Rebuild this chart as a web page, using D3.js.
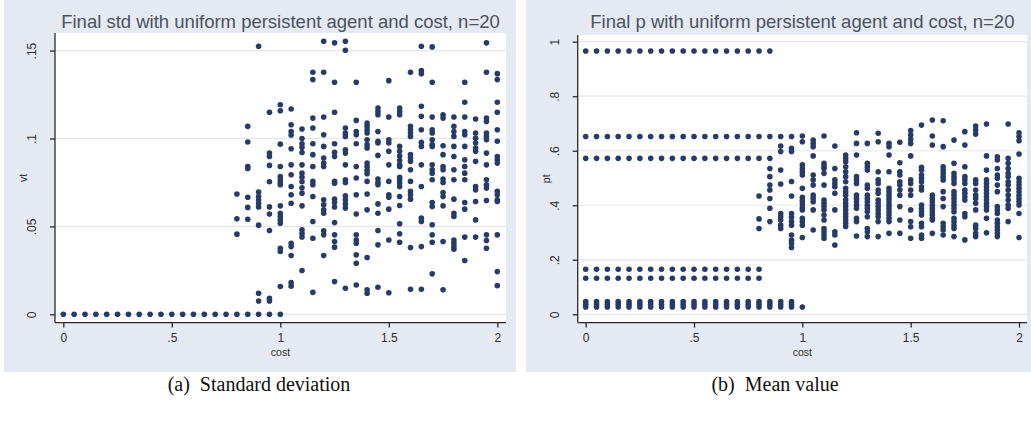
<!DOCTYPE html>
<html>
<head>
<meta charset="utf-8">
<script src="https://cdn.jsdelivr.net/npm/d3@7"></script>
<style>
  html, body { margin: 0; padding: 0; background: #ffffff; }
  svg { display: block; }
</style>
</head>
<body>
<svg id="chart" width="1031" height="421"></svg>
<script>
// Cost levels used in the simulation runs (x axis of both panels)
const costLevels = [0, 0.05, 0.1, 0.15, 0.2, 0.25, 0.3, 0.35, 0.4, 0.45, 0.5,
  0.55, 0.6, 0.65, 0.7, 0.75, 0.8, 0.85, 0.9, 0.95, 1, 1.05, 1.1, 1.15, 1.2,
  1.25, 1.3, 1.35, 1.4, 1.45, 1.5, 1.55, 1.6, 1.65, 1.7, 1.75, 1.8, 1.85, 1.9, 1.95, 2];

// Final standard deviation (vt) observed at each cost level
const stdValues = [
  [0], [0], [0], [0], [0], [0], [0], [0], [0], [0], [0], [0], [0], [0], [0], [0],
  [0, .0684, .0543, .0456],
  [0, .1069, .098, .084, .083, .0666, .0608, .0541],
  [0, .1525, .0695, .067, .065, .063, .061, .0507, .012, .0076],
  [0, .1149, .0917, .0898, .0847, .0754, .0611, .057, .0477, .0091, .0076],
  [0, .1192, .1158, .0968, .0841, .0784, .0765, .075, .0737, .0617, .0575, .0556, .0537, .0518, .0376, .0357, .0158],
  [.1168, .1078, .104, .102, .0942, .085, .0794, .0727, .068, .0632, .0404, .0385, .0334, .018, .016],
  [.1054, .1, .097, .095, .092, .085, .0803, .078, .0754, .072, .0689, .0617, .048, .046, .044, .0249],
  [.1377, .1335, .1116, .106, .097, .0908, .0841, .0756, .0737, .067, .0528, .0433, .0125],
  [.1553, .1377, .1122, .1021, .0955, .0889, .086, .0841, .0651, .0623, .0594, .0575, .0475, .0452, .0334],
  [.1544, .132, .1149, .097, .0921, .0898, .0756, .0746, .0655, .0636, .061, .0522, .0452, .0414, .0382, .0186],
  [.1553, .1502, .106, .1031, .1012, .0936, .0917, .085, .0765, .075, .0674, .0651, .0628, .0604, .0148],
  [.132, .1103, .104, .1021, .097, .0841, .0775, .068, .057, .0452, .0423, .0404, .0338, .029, .0167],
  [.1088, .1069, .105, .1031, .0993, .0965, .0946, .086, .084, .082, .08, .0756, .0684, .0594, .0323, .0139, .012],
  [.1173, .1154, .1135, .104, .0984, .0974, .0904, .0769, .075, .0737, .0628, .0575, .0477, .0395, .0154],
  [.1329, .1122, .0993, .0974, .0927, .085, .0756, .068, .0666, .0598, .0423, .0123],
  [.1173, .1154, .1135, .0955, .0927, .09, .0875, .085, .0841, .078, .0765, .0747, .0727, .067, .0619, .0515, .0458, .041],
  [.1377, .1069, .105, .1031, .1012, .0908, .0889, .087, .0822, .0756, .0699, .068, .0655, .038, .0142],
  [.1525, .1386, .1369, .1183, .1126, .105, .0978, .0955, .085, .0727, .0547, .0528, .0385, .0142],
  [.1521, .132, .1122, .105, .1031, .0993, .0965, .0955, .085, .0822, .0803, .0765, .0636, .0613, .0509, .0452, .041, .023],
  [.1135, .1116, .0959, .0908, .0841, .0822, .0769, .075, .0693, .067, .0617, .0414, .0139],
  [.1122, .1069, .104, .1012, .0955, .0898, .0822, .0765, .0655, .0575, .0556, .0423, .0404, .0385, .037],
  [.132, .1206, .1122, .104, .1021, .0955, .0879, .0841, .0803, .0765, .0636, .0598, .0439, .0306],
  [.1111, .1031, .1002, .0974, .0946, .0927, .087, .0727, .0708, .0642, .0537, .0439],
  [.1544, .1377, .1116, .1097, .1031, .1012, .0993, .0917, .085, .0765, .0737, .0718, .0647, .0452, .042, .0376],
  [.1369, .1335, .1206, .1149, .105, .0984, .0898, .0879, .086, .0699, .068, .0651, .0642, .0452, .0243, .0163]
];

// Final mean p (pt) observed at each cost level
const pValues = [
  [.966, .652, .572, .165, .132, .047, .037, .027],
  [.966, .652, .572, .165, .132, .047, .037, .027],
  [.966, .652, .572, .165, .132, .047, .037, .027],
  [.966, .652, .572, .165, .132, .047, .037, .027],
  [.966, .652, .572, .165, .132, .047, .037, .027],
  [.966, .652, .572, .165, .132, .047, .037, .027],
  [.966, .652, .572, .165, .132, .047, .037, .027],
  [.966, .652, .572, .165, .132, .047, .037, .027],
  [.966, .652, .572, .165, .132, .047, .037, .027],
  [.966, .652, .572, .165, .132, .047, .037, .027],
  [.966, .652, .572, .165, .132, .047, .037, .027],
  [.966, .652, .572, .165, .132, .047, .037, .027],
  [.966, .652, .572, .165, .132, .047, .037, .027],
  [.966, .652, .572, .165, .132, .047, .037, .027],
  [.966, .652, .572, .165, .132, .047, .037, .027],
  [.966, .652, .572, .165, .132, .047, .037, .027],
  [.966, .652, .572, .434, .35, .315, .165, .132, .047, .037, .027],
  [.966, .652, .572, .535, .505, .474, .456, .425, .389, .34, .047, .037, .027],
  [.652, .617, .597, .529, .478, .37, .358, .346, .327, .315, .047, .037, .027],
  [.652, .609, .597, .487, .434, .37, .356, .34, .327, .291, .272, .26, .245, .047, .037, .027],
  [.654, .633, .548, .535, .523, .511, .462, .429, .417, .405, .392, .383, .352, .34, .327, .282, .027],
  [.639, .627, .615, .581, .511, .493, .474, .437, .425, .413, .383, .309],
  [.654, .554, .544, .535, .517, .474, .419, .407, .395, .383, .364, .346, .315, .303, .291, .279],
  [.617, .535, .493, .48, .468, .444, .383, .303, .291, .254],
  [.584, .572, .56, .541, .523, .505, .486, .462, .45, .437, .42, .407, .395, .383, .37, .358, .346, .334, .322],
  [.666, .627, .584, .505, .493, .48, .437, .425, .413, .4, .389, .352, .34, .287],
  [.627, .554, .541, .529, .474, .462, .437, .425, .413, .4, .389, .376, .358, .315, .303, .285],
  [.664, .633, .523, .493, .48, .456, .444, .419, .407, .395, .383, .37, .358, .34, .285],
  [.627, .615, .584, .523, .462, .45, .437, .425, .413, .4, .389, .376, .364, .352, .34, .297],
  [.631, .556, .523, .511, .486, .474, .456, .437, .395, .346, .297],
  [.674, .658, .642, .627, .581, .493, .48, .456, .437, .383, .34, .321, .279],
  [.694, .539, .529, .511, .499, .486, .468, .456, .401, .389, .376, .364, .334, .321, .291, .279],
  [.713, .654, .621, .437, .425, .413, .4, .389, .376, .364, .352, .346, .297],
  [.71, .615, .541, .529, .517, .505, .493, .45, .425, .395, .334, .321, .309, .291],
  [.639, .554, .517, .505, .493, .48, .45, .437, .425, .413, .401, .389, .376, .352, .34, .327, .315, .285],
  [.67, .621, .541, .505, .493, .48, .456, .444, .431, .419, .37, .358, .273],
  [.691, .676, .661, .493, .48, .456, .437, .425, .407, .383, .327, .315, .297, .285],
  [.698, .581, .529, .493, .48, .468, .456, .444, .431, .419, .407, .395, .383, .352, .299],
  [.578, .566, .535, .511, .499, .474, .45, .395, .383, .37, .346, .334, .321, .309, .297, .285],
  [.698, .572, .554, .535, .517, .505, .486, .474, .456, .437, .419, .401, .389, .34],
  [.666, .652, .637, .588, .499, .486, .474, .462, .45, .437, .425, .413, .401, .37, .282]
];

// Tick positions and their labels
const xTicks = [0, 0.5, 1, 1.5, 2];
const xTickLabels = ["0", ".5", "1", "1.5", "2"];
const stdTicks = [0, 0.05, 0.1, 0.15];
const stdTickLabels = ["0", ".05", ".1", ".15"];
const pTicks = [0, 0.2, 0.4, 0.6, 0.8, 1];
const pTickLabels = ["0", ".2", ".4", ".6", ".8", "1"];

const titles = [
  "Final std with uniform persistent agent and cost, n=20",
  "Final p with uniform persistent agent and cost, n=20"
];
const captions = ["(a)  Standard deviation", "(b)  Mean value"];

const svg = d3.select("#chart");
const sans = "'Liberation Sans', Arial, sans-serif";
const serif = "'Liberation Serif', 'Times New Roman', serif";
const markColor = "#263b66";

function drawPanel(opt) {
  const g = svg.append("g");

  // graph region background
  g.append("rect")
    .attr("x", opt.box[0]).attr("y", opt.box[1])
    .attr("width", opt.box[2]).attr("height", opt.box[3])
    .attr("fill", "#e5e9f1");

  // plot region
  const pr = opt.plot;
  g.append("rect")
    .attr("x", pr.left).attr("y", pr.top)
    .attr("width", pr.right - pr.left).attr("height", pr.bottom - pr.top)
    .attr("fill", "#ffffff");

  const x = d3.scaleLinear().domain([0, 2]).range(opt.xRange);
  const y = d3.scaleLinear().domain(opt.yDomain).range(opt.yRange);

  // horizontal grid lines
  g.append("g").selectAll("line")
    .data(opt.yTicks)
    .join("line")
    .attr("x1", pr.left + 1).attr("x2", pr.right)
    .attr("y1", d => y(d)).attr("y2", d => y(d))
    .attr("stroke", "#e3e6ec").attr("stroke-width", 1.2);

  // points
  const pts = [];
  costLevels.forEach((c, i) => opt.values[i].forEach(v => pts.push([c, v])));
  g.append("g").selectAll("circle")
    .data(pts)
    .join("circle")
    .attr("cx", d => x(d[0]))
    .attr("cy", d => y(d[1]))
    .attr("r", 2.8)
    .attr("fill", markColor);

  // y axis
  const yAxis = d3.axisLeft(y)
    .tickValues(opt.yTicks)
    .tickFormat((d, i) => opt.yTickLabels[i])
    .tickSize(5).tickSizeOuter(0);
  const ya = g.append("g")
    .attr("transform", `translate(${pr.left},0)`)
    .call(yAxis);
  ya.select(".domain").attr("d", `M0,${pr.top}V${pr.bottom}`);
  ya.selectAll("path, line").attr("stroke", "#2a2a2a").attr("stroke-width", 1.3);
  ya.selectAll("text")
    .attr("transform", "rotate(-90)")
    .attr("x", 0).attr("y", -19).attr("dy", 0)
    .attr("text-anchor", "middle")
    .attr("font-family", sans).attr("font-size", 12)
    .attr("fill", "#303030");

  // x axis
  const xAxis = d3.axisBottom(x)
    .tickValues(xTicks)
    .tickFormat((d, i) => xTickLabels[i])
    .tickSize(5).tickSizeOuter(0);
  const xa = g.append("g")
    .attr("transform", `translate(0,${pr.bottom})`)
    .call(xAxis);
  xa.select(".domain").attr("d", `M${pr.left},0H${pr.right}`);
  xa.selectAll("path, line").attr("stroke", "#2a2a2a").attr("stroke-width", 1.3);
  xa.selectAll("text")
    .attr("y", 10.5).attr("dy", "0.71em")
    .attr("font-family", sans).attr("font-size", 12)
    .attr("fill", "#303030");

  const cx = (pr.left + pr.right) / 2;
  const cy = (pr.top + pr.bottom) / 2;

  // axis titles
  g.append("text")
    .attr("x", cx).attr("y", pr.bottom + 33)
    .attr("text-anchor", "middle")
    .attr("font-family", sans).attr("font-size", 10.5)
    .attr("fill", "#303030")
    .text("cost");
  g.append("text")
    .attr("transform", `translate(${pr.left - 28},${cy}) rotate(-90)`)
    .attr("text-anchor", "middle")
    .attr("font-family", sans).attr("font-size", 10.5)
    .attr("fill", "#303030")
    .text(opt.yTitle);

  // chart title
  g.append("text")
    .attr("x", cx).attr("y", 28)
    .attr("text-anchor", "middle")
    .attr("font-family", sans).attr("font-size", 18.5)
    .attr("fill", "#4b5262")
    .text(opt.title);

  // caption under the panel
  g.append("text")
    .attr("x", opt.captionX).attr("y", 391)
    .attr("text-anchor", "middle")
    .attr("font-family", serif).attr("font-size", 20)
    .attr("fill", "#111111")
    .attr("xml:space", "preserve")
    .style("white-space", "pre")
    .text(opt.caption);
}

drawPanel({
  box: [4, 0, 512, 372],
  plot: { left: 55, right: 506, top: 33, bottom: 322.6 },
  xRange: [63.3, 497.3],
  yDomain: [0, 0.15],
  yRange: [314.3, 50.6],
  yTicks: stdTicks,
  yTickLabels: stdTickLabels,
  values: stdValues,
  yTitle: "vt",
  title: titles[0],
  caption: captions[0],
  captionX: 259
});

drawPanel({
  box: [526, 0, 505, 372],
  plot: { left: 577.7, right: 1027, top: 35, bottom: 322.6 },
  xRange: [585.7, 1019],
  yDomain: [0, 1],
  yRange: [314.3, 41.7],
  yTicks: pTicks,
  yTickLabels: pTickLabels,
  values: pValues,
  yTitle: "pt",
  title: titles[1],
  caption: captions[1],
  captionX: 775
});
</script>
</body>
</html>
